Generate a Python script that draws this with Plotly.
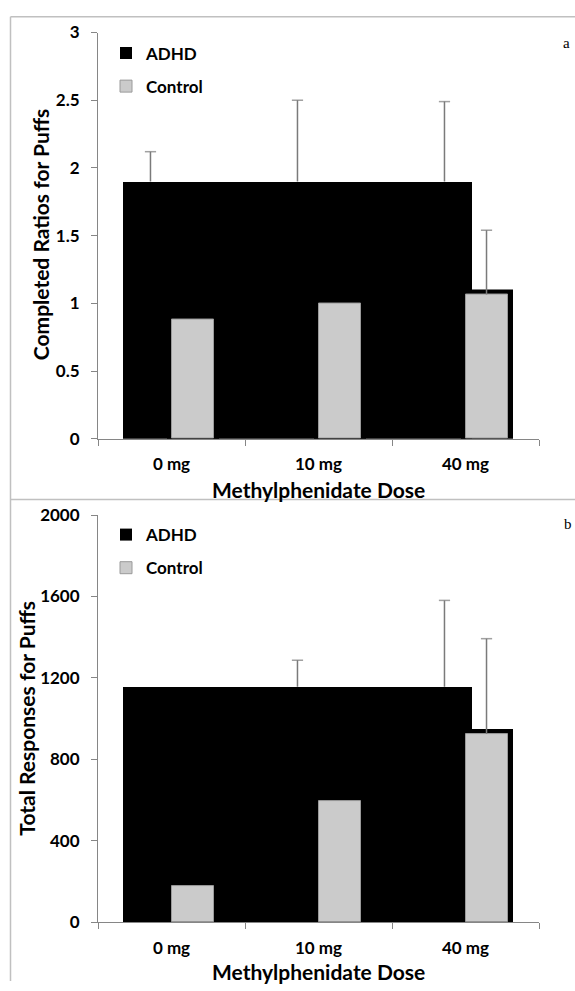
import plotly.graph_objects as go

# ---------------- data ----------------
doses = ["0 mg", "10 mg", "40 mg"]

ratio_adhd = [1.90, 1.90, 1.90]
ratio_adhd_err = [0.22, 0.60, 0.59]
ratio_control = [0.88, 1.00, 1.065]
ratio_control_err = [None, None, 0.475]   # 0/10 mg bars not visible in source

resp_adhd = [1157, 1157, 1157]
resp_adhd_err = [None, 130, 424]
resp_control = [178, 593, 925]
resp_control_err = [None, None, 468]

ratio_ticks = [0, 0.5, 1, 1.5, 2, 2.5, 3]
ratio_ticktext = ["0", "0.5", "1", "1.5", "2", "2.5", "3"]
resp_ticks = [0, 400, 800, 1200, 1600, 2000]
resp_ticktext = ["0", "400", "800", "1200", "1600", "2000"]

# ---------------- style ----------------
W, H = 575, 991
FONT = "Lato"
AX_GRAY = "#868686"
ERR_GRAY = "#7a7a7a"
CTRL_FILL = "#cbcbcb"

idx = list(range(len(doses)))
ADHD_POS = -0.143
CTRL_POS = 0.143
BAR_W = 0.286

fig = go.Figure()


def add_errors(vals, errs, pos, xa, ya):
    xs, ys, sizes = [], [], []
    for i in idx:
        if errs[i] is None:
            continue
        xs += [i + pos, i + pos, None]
        ys += [vals[i], vals[i] + errs[i], None]
        sizes += [0, 8, 0]
    fig.add_trace(go.Scatter(
        x=xs, y=ys, xaxis=xa, yaxis=ya, mode="lines+markers",
        line=dict(color=ERR_GRAY, width=1.5),
        marker=dict(symbol="line-ew", size=sizes, color=ERR_GRAY,
                    line=dict(color=ERR_GRAY, width=1.5)),
        showlegend=False, hoverinfo="skip", connectgaps=False,
    ))


def add_panel(row, adhd, adhd_err, ctrl, ctrl_err, legend):
    xa = "x" if row == 1 else "x2"
    ya = "y" if row == 1 else "y2"
    # ADHD (rendered as one merged black block in the source)
    fig.add_trace(go.Bar(
        x=idx, y=adhd, name="ADHD", xaxis=xa, yaxis=ya,
        offset=-0.33, width=[1.0, 1.0, 0.374],
        marker=dict(color="black", line=dict(color="black", width=0)),
        legend=legend, legendgroup="adhd" + legend, showlegend=True,
    ))
    # black rim around control bars
    fig.add_trace(go.Bar(
        x=idx, y=ctrl, xaxis=xa, yaxis=ya, offset=CTRL_POS - BAR_W / 2, width=BAR_W,
        marker=dict(color="black", line=dict(color="black", width=10)),
        showlegend=False, hoverinfo="skip",
    ))
    fig.add_trace(go.Bar(
        x=idx, y=ctrl, name="Control", xaxis=xa, yaxis=ya,
        offset=CTRL_POS - BAR_W / 2, width=BAR_W,
        marker=dict(color=CTRL_FILL, line=dict(color="#9a9a9a", width=1)),
        legend=legend, legendgroup="ctrl" + legend, showlegend=True,
    ))
    add_errors(adhd, adhd_err, ADHD_POS, xa, ya)
    add_errors(ctrl, ctrl_err, CTRL_POS, xa, ya)


add_panel(1, ratio_adhd, ratio_adhd_err, ratio_control, ratio_control_err, "legend")
add_panel(2, resp_adhd, resp_adhd_err, resp_control, resp_control_err, "legend2")

x_dom = [98 / W, 539 / W]
ya_dom = [1 - 437 / H, 1 - 22 / H]
yb_dom = [1 - 931 / H, 1 - 515 / H]

tickfont = dict(family=FONT, size=17, color="black", weight="bold")


def xaxis_cfg(anchor):
    return dict(
        domain=x_dom, anchor=anchor, range=[-0.5, 2.5],
        tickmode="array", tickvals=idx, ticktext=doses, ticks="",
        tickfont=tickfont, ticklabelstandoff=10,
        showline=True, linecolor=AX_GRAY, linewidth=1,
        showgrid=False, zeroline=False,
        minor=dict(tickmode="array", tickvals=[-0.5, 0.5, 1.5, 2.5],
                   ticks="outside", ticklen=6, tickcolor=AX_GRAY, tickwidth=1),
    )


def yaxis_cfg(anchor, dom, rng, tv, tt):
    return dict(
        domain=dom, anchor=anchor, range=rng,
        tickmode="array", tickvals=tv, ticktext=tt,
        ticks="outside", ticklen=6, tickcolor=AX_GRAY, tickwidth=1,
        tickfont=tickfont, ticklabelstandoff=8,
        showline=True, linecolor=AX_GRAY, linewidth=1,
        showgrid=False, zeroline=False,
    )


legend_common = dict(
    font=dict(family=FONT, size=17, color="black", weight="bold"),
    bgcolor="rgba(0,0,0,0)", traceorder="grouped", tracegroupgap=8,
    xanchor="left", yanchor="top", itemwidth=30,
)

fig.update_layout(
    width=W, height=H,
    margin=dict(l=0, r=0, t=0, b=0),
    paper_bgcolor="white", plot_bgcolor="white",
    barmode="overlay", bargap=0,
    xaxis=xaxis_cfg("y"),
    yaxis=yaxis_cfg("x", ya_dom, [0, 3], ratio_ticks, ratio_ticktext),
    xaxis2=xaxis_cfg("y2"),
    yaxis2=yaxis_cfg("x2", yb_dom, [0, 2000], resp_ticks, resp_ticktext),
    legend=dict(x=106 / W, y=1 - 25 / H, **legend_common),
    legend2=dict(x=106 / W, y=1 - 517 / H, **legend_common),
    showlegend=True,
)

title_font = dict(family=FONT, size=21, color="black", weight="bold")
ann = [
    dict(text="Methylphenidate Dose", x=318.5 / W, y=1 - 489 / H),
    dict(text="Methylphenidate Dose", x=318.5 / W, y=1 - 981 / H),
    dict(text="Completed Ratios for Puffs", x=40 / W, y=1 - 229 / H, textangle=-90),
    dict(text="Total Responses for Puffs", x=27 / W, y=1 - 723 / H, textangle=-90),
]
for a in ann:
    fig.add_annotation(xref="paper", yref="paper", showarrow=False,
                       xanchor="center", yanchor="middle", font=title_font, **a)

for lab, xx, yy in (("a", 566, 33), ("b", 568, 524)):
    fig.add_annotation(text=lab, xref="paper", yref="paper", x=xx / W, y=1 - yy / H,
                       showarrow=False, xanchor="center", yanchor="middle",
                       font=dict(family="Liberation Serif", size=15, color="black"))

frame = dict(color="#c0c0c0", width=1.5)
fig.add_shape(type="line", xref="paper", yref="paper", x0=10.5 / W, x1=1, y0=1 - 6 / H, y1=1 - 6 / H, line=frame)
fig.add_shape(type="line", xref="paper", yref="paper", x0=10.5 / W, x1=1, y0=1 - 499 / H, y1=1 - 499 / H, line=frame)
fig.add_shape(type="line", xref="paper", yref="paper", x0=10.5 / W, x1=10.5 / W, y0=0, y1=1 - 6 / H, line=frame)

fig.write_html("out.html", config={"displayModeBar": False},
               post_script="document.body.style.margin='0';")
